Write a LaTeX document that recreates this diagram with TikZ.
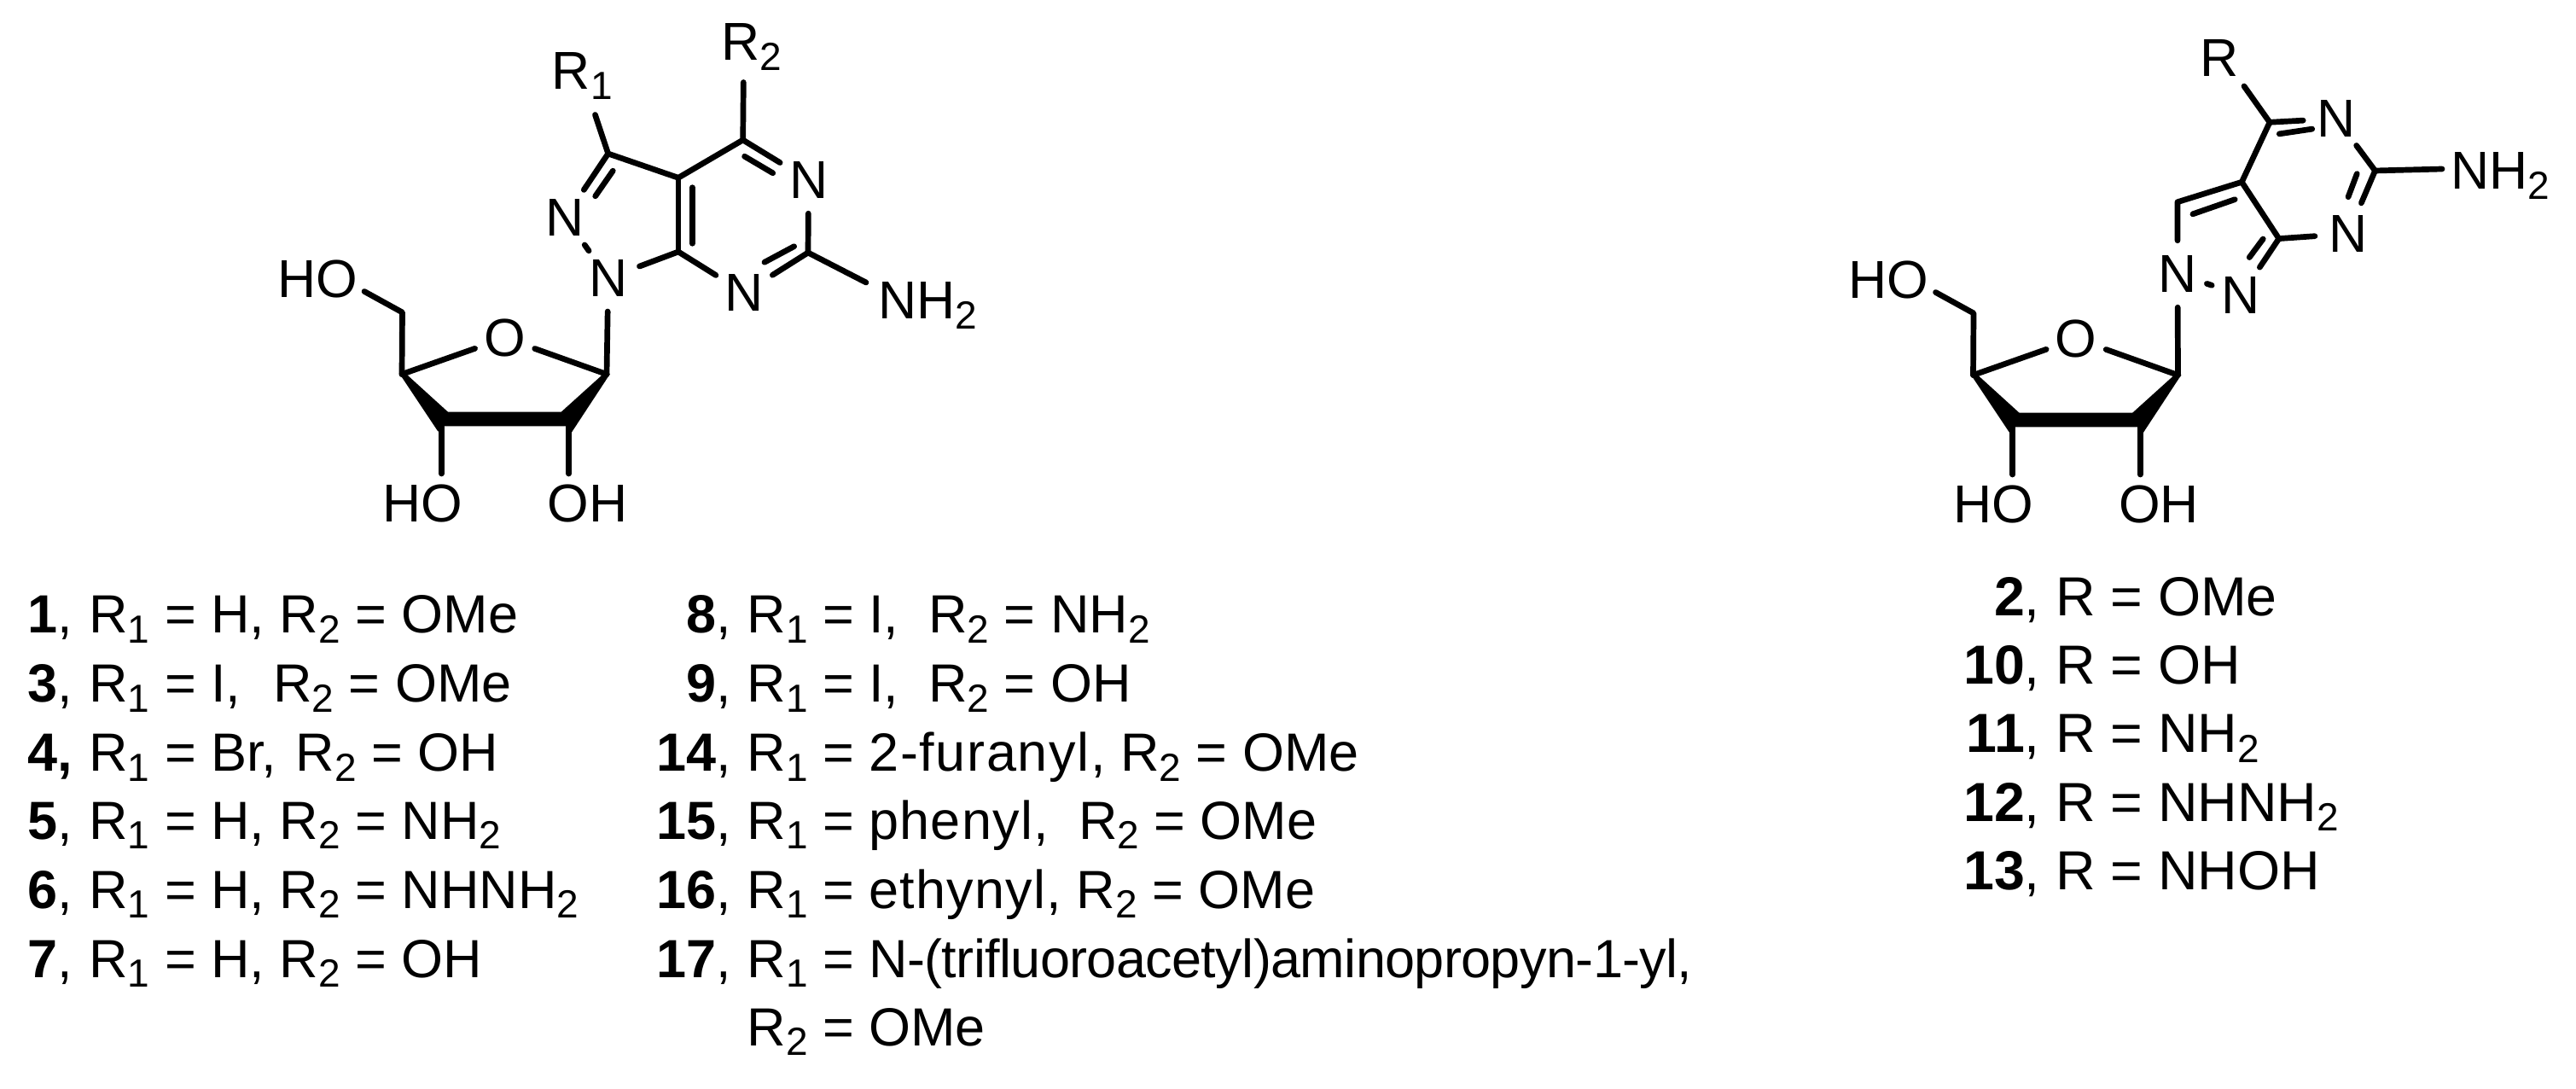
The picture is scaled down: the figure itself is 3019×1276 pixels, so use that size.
\documentclass[tikz,border=0pt]{standalone}
\usepackage{fontspec}
\setmainfont{Liberation Sans}
\newcommand{\lsub}[1]{\raisebox{-11.7pt}{\fontsize{46}{46}\selectfont #1}}
\newcommand{\Rone}{R\lsub{1}}
\newcommand{\Rtwo}{R\lsub{2}}
\newcommand{\spaced}[2]{{\addfontfeature{LetterSpace=#1}#2}}
\newcommand{\ribose}[3]{%
\begin{scope}[shift={(#2,#3)},name prefix=#1]
  \coordinate (C1) at (711,438.5);
  \coordinate (C2) at (666.7,500);
  \coordinate (C3) at (517.3,500);
  \coordinate (C4) at (471,438.5);
  \coordinate (C5) at (471.5,366);
  \coordinate (HOe) at (427,341.5);
  \coordinate (HO3e) at (517.3,555);
  \coordinate (HO2e) at (666.7,555);
  \node[atomO] (O) at (591.7,396) {O};
  \node[chem] (HOa) at (372,326.5) {HO};
  \node[chem] (HOb) at (495,590) {HO};
  \node[chem] (HOc) at (688.7,590) {OH};
  \draw[bond] (C4) -- (O);
  \draw[bond] (C1) -- (O);
  \draw[bond] (C4) -- (C5) -- (HOe);
  \draw[bond] (C3) -- (HO3e);
  \draw[bond] (C2) -- (HO2e);
  \fill (468.3,438) -- (478,440) -- (525,482.7) -- (657.7,482.7) -- (705,440) -- (715,438) -- (670,506.5) -- (663.3,499.3) -- (520,499.3) -- (513.3,505.5) -- cycle;
\end{scope}}
\tikzset{
  bond/.style={line width=6.7pt,line cap=round,line join=round},
  ib/.style={bond,shorten >=3pt,shorten <=3pt},
  chem/.style={inner sep=0pt,font=\fontsize{62.5}{62.5}\selectfont},
  atom/.style={chem,circle,minimum size=78pt},
  atomO/.style={chem,circle,minimum size=74pt},
  lst/.style={inner sep=0pt,font=\fontsize{63}{63}\selectfont},
  num/.style={lst,anchor=base west},
  numr/.style={lst,anchor=base east},
  txt/.style={lst,anchor=base west},
  lstb/.style={inner sep=0pt,font=\fontsize{64.5}{64.5}\selectfont},
  numb/.style={lstb,anchor=base east},
  txtb/.style={lstb,anchor=base west}
}
\begin{document}
\begin{tikzpicture}[x=1pt,y=-1pt]
\useasboundingbox (0,0) rectangle (3019,1276);
\fill[white] (0,0) rectangle (3019,1276);
% left structure
\coordinate (aC3) at (712.7,180);
\coordinate (aC3a) at (795,208.3);
\coordinate (aC4) at (870.7,164);
\coordinate (aC6) at (947,296);
\coordinate (aC7a) at (795,295);
\coordinate (aRoneE) at (697.5,134.5);
\coordinate (aRtwoE) at (871.3,96.5);
\coordinate (aNHe) at (1015,331);
\node[atom] (aN5) at (947.6,211) {N};
\node[atom] (aN7) at (872.2,343.2) {N};
\node[atom] (aN1) at (712.8,325.8) {N};
\node[atom] (aN2) at (662.5,255) {N};
\node[chem,anchor=base west] (aRone) at (646.7,105) {\Rone};
\node[chem,anchor=base west] (aRtwo) at (845,71) {\Rtwo};
\node[chem,anchor=base west] (aNH) at (1029,373.5) {NH\lsub{2}};
\draw[bond] (aRoneE) -- (aC3) -- (aC3a) -- (aC4) -- (aRtwoE);
\draw[bond] (aC3a) -- (aC7a);
\draw[bond] (aC3) -- (aN2);
\coordinate (aI1s) at (720,197.7); \coordinate (aI1e) at (696,232.3);
\draw[ib] (aI1s) -- (aI1e);
\coordinate (aI2s) at (811.3,216.7); \coordinate (aI2e) at (811.3,288.3);
\draw[ib] (aI2s) -- (aI2e);
\draw[bond] (aC4) -- (aN5);
\coordinate (aI3s) at (870,181.7); \coordinate (aI3e) at (908.3,204.3);
\draw[ib] (aI3s) -- (aI3e);
\draw[bond] (aN5) -- (aC6);
\draw[bond] (aC6) -- (aN7);
\coordinate (aI4s) at (893.3,308.7); \coordinate (aI4e) at (933.3,287.3);
\draw[ib] (aI4s) -- (aI4e);
\draw[bond] (aC7a) -- (aN7);
\draw[bond] (aC7a) -- (aN1);
\draw[bond] (aC6) -- (aNHe);
\draw[bond] (aN2) -- (aN1);
\ribose{l-}{0}{0}
\draw[bond] (aN1) -- (l-C1);
% right structure
\coordinate (bC4) at (2660,143.3);
\coordinate (bC2) at (2783.5,200);
\coordinate (bC4a) at (2627.3,213.3);
\coordinate (bC7a) at (2670.8,279.6);
\coordinate (bC3) at (2552,236.7);
\coordinate (bRe) at (2630,101);
\coordinate (bNHe) at (2862,198);
\node[atom] (bN3) at (2738.3,139) {N};
\node[atom] (bN5) at (2752,274) {N};
\node[atom] (bN1) at (2552,321) {N};
\node[atom] (bN2) at (2626.5,345.7) {N};
\node[chem,anchor=base west] (bR) at (2578.3,89.3) {R};
\node[chem,anchor=base west] (bNH) at (2872,222) {NH\lsub{2}};
\draw[bond] (bRe) -- (bC4) -- (bC4a) -- (bC7a);
\draw[bond] (bC4) -- (bN3);
\coordinate (bI1s) at (2668.3,157.3); \coordinate (bI1e) at (2712.7,150.7);
\draw[ib] (bI1s) -- (bI1e);
\draw[bond] (bN3) -- (bC2);
\draw[bond] (bC2) -- (bNHe);
\draw[bond] (bC2) -- (bN5);
\coordinate (bI2s) at (2763.3,200.8); \coordinate (bI2e) at (2751,233.5);
\draw[ib] (bI2s) -- (bI2e);
\draw[bond] (bC7a) -- (bN5);
\draw[bond] (bC4a) -- (bC3) -- (bN1);
\coordinate (bI3s) at (2622,232.7); \coordinate (bI3e) at (2567,251.8);
\draw[ib] (bI3s) -- (bI3e);
\draw[bond,shorten >=-3pt,shorten <=-3pt] (bN1) -- (bN2);
\draw[bond] (bC7a) -- (bN2);
\coordinate (bI4s) at (2654,277.6); \coordinate (bI4e) at (2634.4,304);
\draw[ib] (bI4s) -- (bI4e);
\ribose{r-}{1841.5}{1}
\draw[bond] (bN1) -- (r-C1);
% list, column 1
\node[num] (n1) at (32,741.7) {\textbf{1},};
\node[txt] (t1) at (104.3,741.7) {\Rone{} = H, \Rtwo{} = OMe};
\node[num] (n3) at (32,822.7) {\textbf{3},};
\node[txt] (t3) at (104.3,822.7) {\Rone{} = I,\kern3pt\ \ \Rtwo{} = OMe};
\node[num] (n4) at (32,903.3) {\textbf{4,}};
\node[txt] (t4) at (104.3,903.3) {\Rone{} = Br,\kern5pt\ \Rtwo{} = OH};
\node[num] (n5) at (32,983) {\textbf{5},};
\node[txt] (t5) at (104.3,983) {\Rone{} = H, \Rtwo{} = NH\lsub{2}};
\node[num] (n6) at (32,1064) {\textbf{6},};
\node[txt] (t6) at (104.3,1064) {\Rone{} = H, \Rtwo{} = NHNH\lsub{2}};
\node[num] (n7) at (32,1145) {\textbf{7},};
\node[txt] (t7) at (104.3,1145) {\Rone{} = H, \Rtwo{} = OH};
% list, column 2
\node[numr] (n8) at (857,741.7) {\textbf{8},};
\node[txt] (t8) at (875.3,741.7) {\Rone{} = I,\ \ \Rtwo{} = NH\lsub{2}};
\node[numr] (n9) at (857,822.7) {\textbf{9},};
\node[txt] (t9) at (875.3,822.7) {\Rone{} = I,\ \ \Rtwo{} = OH};
\node[numr] (n14) at (857,903.3) {\textbf{14},};
\node[txt] (t14) at (875.3,903.3) {\Rone{} = \spaced{2.6}{2-furanyl,} \Rtwo{} = OMe};
\node[numr] (n15) at (857,983) {\textbf{15},};
\node[txt] (t15) at (875.3,983) {\Rone{} = \spaced{2}{phenyl,}\ \ \Rtwo{} = OMe};
\node[numr] (n16) at (857,1064) {\textbf{16},};
\node[txt] (t16) at (875.3,1064) {\Rone{} = \spaced{2}{ethynyl,} \Rtwo{} = OMe};
\node[numr] (n17) at (857,1145) {\textbf{17},};
\node[txt] (t17) at (875.3,1145) {\Rone{} = \spaced{-1}{N-(trifluoroacetyl)aminopropyn-1-yl,}};
\node[txt] (t17b) at (875.3,1225) {\Rtwo{} = OMe};
% list, right
\node[numb] (n2) at (2391,721) {\textbf{2},};
\node[txtb] (t2) at (2408.8,721) {R = OMe};
\node[numb] (n10) at (2391,801) {\textbf{10},};
\node[txtb] (t10) at (2408.8,801) {R = OH};
\node[numb] (n11) at (2391,881.7) {\textbf{11},};
\node[txtb] (t11) at (2408.8,881.7) {R = NH\lsub{2}};
\node[numb] (n12) at (2391,962) {\textbf{12},};
\node[txtb] (t12) at (2408.8,962) {R = NHNH\lsub{2}};
\node[numb] (n13) at (2391,1042.7) {\textbf{13},};
\node[txtb] (t13) at (2408.8,1042.7) {R = NHOH};
\end{tikzpicture}
\end{document}
